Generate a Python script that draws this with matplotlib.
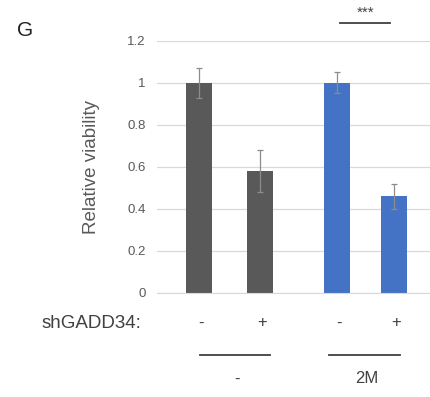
import matplotlib
matplotlib.use("Agg")
import matplotlib.pyplot as plt

plt.rcParams["font.family"] = ["Liberation Sans", "DejaVu Sans"]

# Relative viability per condition (mean and error)
conditions = ["ctrl -", "ctrl +", "2M -", "2M +"]
viability = [1.00, 0.58, 1.00, 0.46]
errors = [0.07, 0.10, 0.05, 0.06]
sh_signs = ["-", "+", "-", "+"]
groups = ["-", "2M"]
y_ticks = [0, 0.2, 0.4, 0.6, 0.8, 1.0, 1.2]
y_tick_labels = ["0", "0.2", "0.4", "0.6", "0.8", "1", "1.2"]

positions = [0, 1, 2.26, 3.2]
colors = ["#595959", "#595959", "#4472C4", "#4472C4"]
text_gray = "#595959"
dark = "#404040"

fig = plt.figure(figsize=(4.30, 3.97), dpi=100)
ax = fig.add_axes([0.365, 0.262, 0.635, 0.635])

ax.bar(positions, viability, width=0.43, color=colors, zorder=2)
ax.errorbar(positions, viability, yerr=errors, fmt="none",
            ecolor="#8c8c8c", elinewidth=0.9, capsize=2.5, capthick=0.9, zorder=3)

ax.set_ylim(0, 1.2)
ax.set_xlim(-0.69, 3.79)
ax.set_yticks(y_ticks)
ax.set_yticklabels(y_tick_labels, fontsize=9.5, color=text_gray)
ax.yaxis.grid(True, color="#d9d9d9", linewidth=0.9, zorder=0)
ax.set_xticks([])
ax.tick_params(axis="y", length=0, pad=8)
for side in ["top", "right", "left"]:
    ax.spines[side].set_visible(False)
ax.spines["bottom"].set_color("#d9d9d9")
ax.set_axisbelow(True)
ax.set_ylabel("Relative viability", fontsize=13.5, color=text_gray, labelpad=20)

# significance bracket over the 2M pair
ax.plot([2.31, 3.13], [1.285, 1.285], color=dark, linewidth=1.3, clip_on=False)
ax.text(2.74, 1.3, "***", ha="center", va="bottom", fontsize=11,
        color=dark, clip_on=False)

# shGADD34 row and treatment groups below the axis
trans = ax.get_xaxis_transform()
for x, s in zip(positions, sh_signs):
    ax.text(x + 0.04, -0.119, s, transform=trans, ha="center", va="center",
            fontsize=12, color=dark)
fig.text(141 / 430, 1 - 323 / 397, "shGADD34:", ha="right", va="center",
         fontsize=13.5, color=dark)

group_spans = [(0.02, 1.16), (2.13, 3.29)]
for (x0, x1), g in zip(group_spans, groups):
    ax.plot([x0, x1], [-0.246, -0.246], transform=trans, color=dark,
            linewidth=1.3, clip_on=False)
    ax.text((x0 + x1) / 2 + 0.04, -0.341, g, transform=trans, ha="center",
            va="center", fontsize=12, color=dark)

fig.text(25 / 430, 1 - 30 / 397, "G", ha="center", va="center",
         fontsize=15, color="#222222")

fig.savefig("out.png", dpi=100)
